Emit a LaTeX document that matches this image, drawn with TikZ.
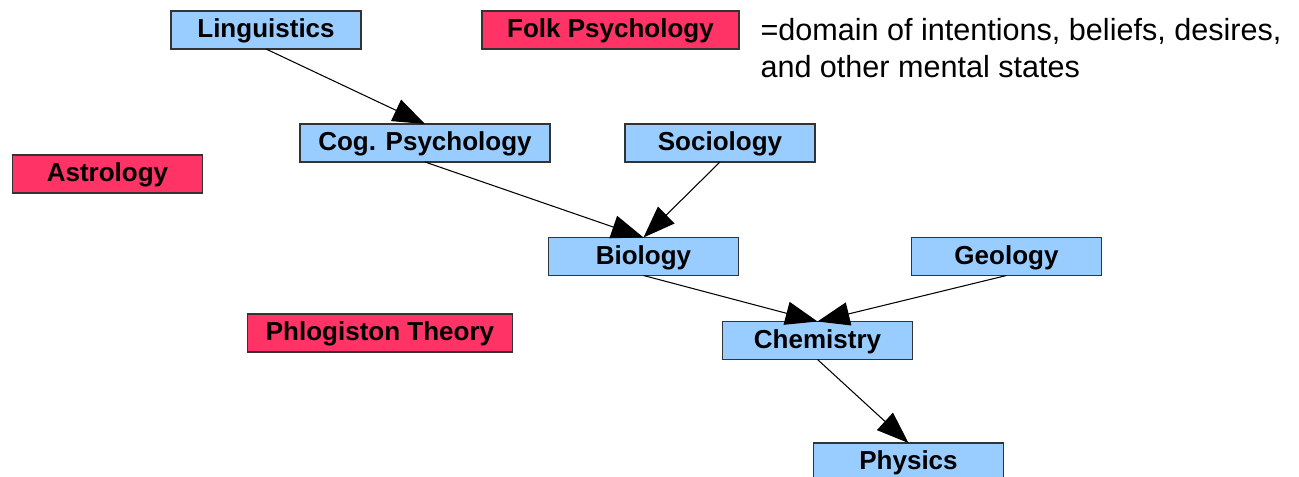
\documentclass[tikz,border=0pt]{standalone}
\usepackage{fontspec}
\setmainfont{Liberation Sans}
\usepackage{xcolor}
\usetikzlibrary{positioning, arrows.meta}
\definecolor{skyblue}{HTML}{99CCFF}
\definecolor{folkred}{HTML}{FF3366}
\definecolor{boxline}{HTML}{333333}
\newcommand{\boxfont}{\fontsize{14.8}{17.8}\selectfont\bfseries}

\begin{document}
\begin{tikzpicture}[node distance=1.5cm,
                    every node/.style={inner sep=0pt, outer sep=0pt},
                    science/.style={draw=boxline, line width=0.6pt, fill=skyblue,
                                    minimum width=3.8cm, minimum height=0.76cm,
                                    text height=0.42cm, text depth=0.11cm,
                                    font=\boxfont},
                    folkbox/.style={science, fill=folkred},
                    link/.style={-{Triangle[length=0.64cm, width=0.47cm]},
                                 line width=0.6pt, black}]
      \useasboundingbox (0,0) rectangle (25.98,-9.54);
      % the special sciences
      \node[science] (ling) at (5.32,-0.60) {Linguistics};
      \node[science, minimum width=5.0cm] (cog) at (8.50,-2.86) {Cog. Psychology};
      \node[science, right=1.5cm of cog] (soc) {Sociology};
      \node[science] (bio) at (12.87,-5.13) {Biology};
      \node[science, right=3.46cm of bio] (geo) {Geology};
      \node[science] (chem) at (16.35,-6.81) {Chemistry};
      \node[science] (phys) at (18.17,-9.24) {Physics};
      % folk psychology and friends
      \node[folkbox, minimum width=5.14cm, right=2.42cm of ling] (folk) {Folk Psychology};
      \node[folkbox] (astro) at (2.15,-3.48) {Astrology};
      \node[folkbox, minimum width=5.3cm] (phlog) at (7.60,-6.66) {Phlogiston Theory};
      \node[anchor=west, align=left, font=\fontsize{17.4}{21}\selectfont] (legend)
        at (15.21,-0.97)
        {=domain of intentions, beliefs, desires,\\and other mental states};
      % reductions
      \draw[link] (ling.south) -- (cog.north);
      \draw[link] (cog.south) -- (bio.north);
      \draw[link] (soc.south) -- (bio.north);
      \draw[link] (bio.south) -- (chem.north);
      \draw[link] (geo.south) -- (chem.north);
      \draw[link] (chem.south) -- (phys.north);
\end{tikzpicture}
\end{document}
